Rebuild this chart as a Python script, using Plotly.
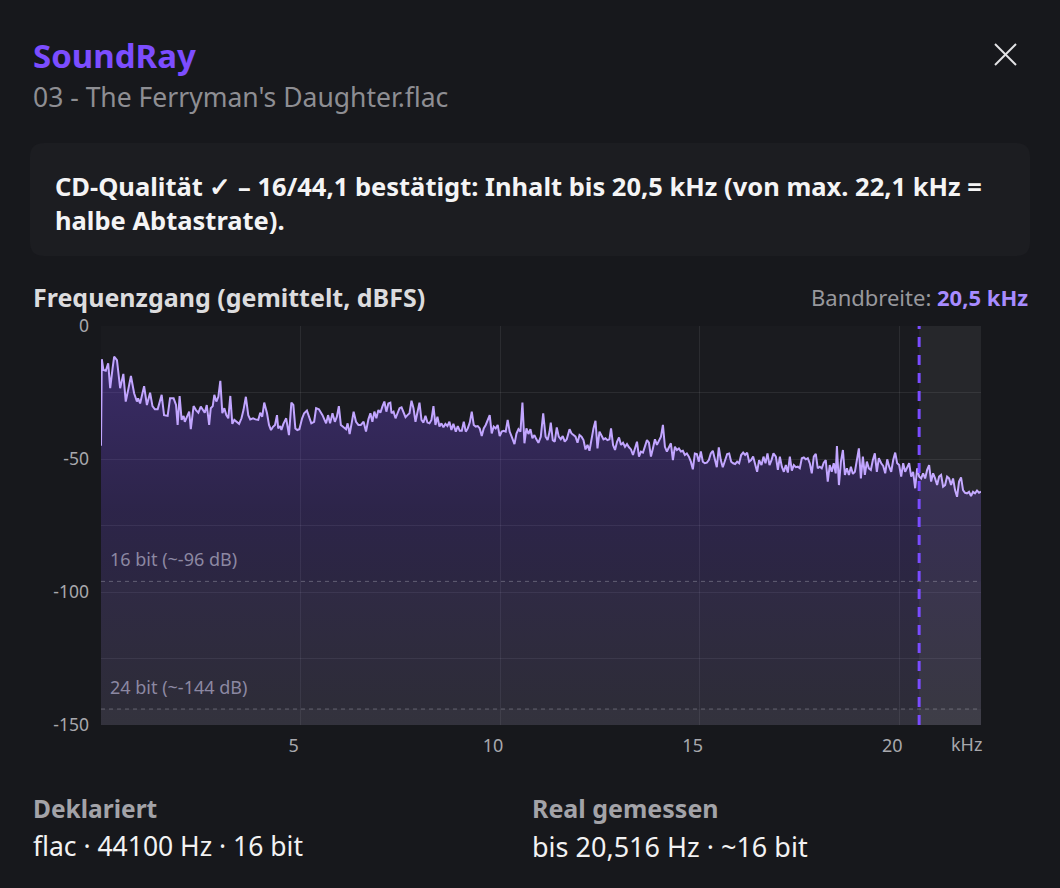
import plotly.graph_objects as go

# ---------------- data ----------------
FREQ_1 = [0.00, 0.02, 0.06, 0.12, 0.18, 0.23, 0.29, 0.33, 0.40, 0.48, 0.56, 0.62, 0.68, 0.75, 0.83, 0.90, 0.93, 0.98,
          1.08, 1.15, 1.23, 1.29, 1.35, 1.42, 1.52, 1.58, 1.67, 1.73, 1.82, 1.88, 1.92, 1.97, 2.02, 2.07, 2.10, 2.17,
          2.21, 2.25, 2.32, 2.38, 2.44, 2.50, 2.57, 2.60, 2.65, 2.71, 2.75, 2.80, 2.84, 2.89, 2.94, 2.99, 3.04, 3.09,
          3.14, 3.19, 3.24, 3.29, 3.34, 3.40, 3.46, 3.52, 3.57, 3.63, 3.69, 3.74, 3.81, 3.87, 3.94, 3.99, 4.04, 4.09,
          4.16, 4.21, 4.26, 4.31, 4.36, 4.41, 4.44, 4.49, 4.52, 4.57, 4.64, 4.71, 4.77, 4.82, 4.87, 4.92, 4.97, 5.04,
          5.09, 5.16, 5.22, 5.27, 5.34, 5.39, 5.46]
DB_1 = [-45.0, -12.5, -16.5, -16.8, -14.0, -23.4, -15.9, -11.5, -12.8, -23.4, -18.0, -28.4, -24.1, -18.8, -25.3, -28.4,
        -27.2, -29.1, -22.6, -29.7, -25.1, -30.1, -31.3, -31.3, -25.9, -33.5, -33.8, -27.2, -27.2, -29.7, -37.2, -26.3,
        -35.3, -33.8, -36.0, -33.5, -32.2, -38.8, -30.1, -31.6, -32.6, -30.3, -31.6, -32.6, -29.7, -37.2, -30.9, -30.1,
        -25.9, -28.4, -26.6, -20.6, -32.8, -30.9, -33.5, -34.7, -26.3, -36.8, -35.3, -36.0, -36.8, -34.7, -31.6, -26.6,
        -33.5, -35.1, -34.7, -35.1, -35.3, -32.6, -34.1, -28.8, -32.8, -37.2, -39.1, -37.9, -37.2, -33.5, -38.5, -37.6,
        -39.1, -36.8, -34.7, -41.0, -28.8, -29.7, -38.5, -39.1, -38.8, -34.7, -32.8, -31.8, -34.7, -36.6, -36.0, -30.9,
        -31.3]

FREQ_2 = [5.55, 5.64, 5.69, 5.74, 5.80, 5.86, 5.91, 5.96, 6.01, 6.08, 6.14, 6.18, 6.23, 6.28, 6.33, 6.39, 6.45, 6.51,
          6.58, 6.64, 6.70, 6.75, 6.80, 6.85, 6.90, 6.95, 7.00, 7.05, 7.10, 7.15, 7.20, 7.25, 7.28, 7.33, 7.38, 7.43,
          7.48, 7.53, 7.58, 7.63, 7.68, 7.73, 7.78, 7.83, 7.88, 7.93, 7.98, 8.03, 8.08, 8.13, 8.18, 8.23, 8.28, 8.33,
          8.38, 8.43, 8.48, 8.53, 8.58, 8.63, 8.68, 8.73, 8.78, 8.83, 8.89, 8.94, 8.99, 9.04, 9.09, 9.14, 9.19, 9.24,
          9.29, 9.34, 9.39, 9.44, 9.49, 9.54, 9.59, 9.64, 9.69, 9.74, 9.79, 9.84, 9.89, 9.94, 9.99, 10.04, 10.09,
          10.14, 10.19, 10.24, 10.29, 10.36, 10.41, 10.46, 10.51, 10.56, 10.61, 10.66, 10.71, 10.76, 10.81, 10.86,
          10.91, 10.96]
DB_2 = [-33.5, -36.6, -33.5, -36.6, -32.8, -36.0, -34.1, -30.1, -37.2, -38.1, -38.8, -36.6, -40.6, -36.6, -32.2, -36.0,
        -37.2, -37.2, -36.0, -39.7, -35.1, -32.8, -36.0, -32.2, -34.7, -31.6, -32.6, -30.3, -28.4, -32.2, -29.1, -28.8,
        -32.8, -32.2, -34.7, -32.8, -30.9, -30.6, -32.8, -34.3, -33.5, -32.8, -28.1, -30.9, -36.0, -32.2, -28.8, -35.3,
        -36.3, -33.8, -36.3, -36.6, -35.3, -30.1, -37.2, -34.1, -37.8, -36.6, -38.1, -36.8, -37.6, -36.0, -39.1, -36.8,
        -39.7, -37.6, -39.4, -39.4, -36.0, -39.7, -38.5, -36.3, -32.2, -37.2, -37.8, -37.6, -38.5, -41.4, -38.5, -37.2,
        -35.3, -33.5, -40.4, -37.8, -38.5, -37.2, -41.4, -39.7, -39.4, -39.7, -35.3, -39.7, -41.6, -44.4, -40.4, -38.8,
        -39.7, -28.8, -44.1, -38.5, -40.6, -38.8, -42.2, -41.0, -42.6, -43.9]

FREQ_3 = [11.02, 11.08, 11.14, 11.19, 11.24, 11.27, 11.32, 11.37, 11.42, 11.47, 11.52, 11.57, 11.62, 11.67, 11.74,
          11.79, 11.84, 11.89, 11.94, 11.99, 12.04, 12.09, 12.14, 12.19, 12.24, 12.29, 12.34, 12.39, 12.44, 12.49,
          12.54, 12.59, 12.64, 12.69, 12.74, 12.78, 12.83, 12.88, 12.93, 12.98, 13.03, 13.08, 13.13, 13.18, 13.23,
          13.28, 13.33, 13.38, 13.43, 13.48, 13.53, 13.58, 13.63, 13.68, 13.73, 13.78, 13.83, 13.88, 13.93, 13.98,
          14.03, 14.08, 14.13, 14.18, 14.23, 14.28, 14.33, 14.38, 14.43, 14.48, 14.53, 14.58, 14.63, 14.68, 14.73,
          14.78, 14.83, 14.88, 14.93, 14.98, 15.03, 15.08, 15.13, 15.18, 15.23, 15.28, 15.33, 15.38, 15.43, 15.48,
          15.53, 15.58, 15.63, 15.69, 15.74, 15.79, 15.84, 15.89, 15.94, 15.99, 16.04, 16.09, 16.14, 16.19, 16.24,
          16.29, 16.34, 16.39, 16.44, 16.49]
DB_3 = [-41.6, -32.8, -41.6, -42.9, -39.7, -36.3, -42.9, -43.5, -38.1, -41.6, -42.6, -41.4, -43.5, -42.6, -38.8, -40.4,
        -41.0, -41.6, -43.9, -41.0, -41.6, -42.9, -46.4, -44.7, -46.9, -42.2, -38.5, -35.6, -46.0, -39.7, -41.0, -42.6,
        -42.2, -42.9, -42.6, -38.5, -44.7, -46.6, -43.5, -41.9, -44.7, -43.9, -45.4, -44.4, -45.6, -46.4, -48.5, -46.0,
        -43.5, -49.1, -47.2, -47.6, -44.7, -42.9, -43.9, -49.1, -46.0, -42.6, -44.7, -42.9, -41.6, -37.2, -45.4, -47.2,
        -45.6, -44.1, -50.4, -45.4, -46.6, -46.0, -47.2, -46.9, -48.5, -47.9, -49.1, -51.0, -53.9, -47.9, -48.1, -51.0,
        -47.2, -51.0, -51.6, -51.4, -50.4, -47.9, -46.9, -50.1, -53.1, -45.6, -50.4, -53.1, -51.0, -48.1, -47.9, -51.0,
        -51.6, -51.9, -51.0, -51.6, -48.5, -47.6, -48.5, -47.6, -51.0, -50.4, -49.1, -52.3, -54.8, -50.4]

FREQ_4 = [16.55, 16.60, 16.65, 16.70, 16.75, 16.80, 16.85, 16.91, 16.96, 17.01, 17.06, 17.11, 17.16, 17.21, 17.26,
          17.31, 17.36, 17.41, 17.46, 17.51, 17.56, 17.61, 17.66, 17.71, 17.76, 17.81, 17.86, 17.91, 17.96, 18.01,
          18.06, 18.11, 18.16, 18.21, 18.26, 18.31, 18.36, 18.41, 18.44, 18.49, 18.54, 18.59, 18.64, 18.69, 18.74,
          18.79, 18.84, 18.89, 18.94, 18.99, 19.04, 19.09, 19.14, 19.19, 19.24, 19.29, 19.34, 19.39, 19.44, 19.49,
          19.55, 19.60, 19.65, 19.70, 19.75, 19.80, 19.85, 19.90, 19.95, 20.00, 20.05, 20.10, 20.15, 20.20, 20.25,
          20.30, 20.35, 20.40, 20.45, 20.50, 20.55, 20.60, 20.65, 20.70, 20.75, 20.80, 20.85, 20.90, 20.95, 21.00,
          21.05, 21.10, 21.15, 21.20, 21.25, 21.30, 21.35, 21.40, 21.45, 21.50, 21.55, 21.60, 21.65, 21.70, 21.75,
          21.80, 21.85, 21.90, 21.95, 22.00, 22.05]
DB_4 = [-52.3, -49.1, -51.6, -47.9, -52.3, -50.4, -47.9, -49.1, -54.1, -49.1, -52.9, -54.8, -52.3, -55.1, -49.1, -54.4,
        -52.3, -53.1, -52.9, -53.5, -49.7, -49.4, -50.1, -49.7, -51.6, -55.4, -49.1, -48.1, -53.5, -52.9, -53.5, -51.4,
        -50.4, -58.5, -52.3, -54.8, -51.6, -55.4, -45.1, -59.8, -51.0, -46.6, -56.0, -53.5, -56.0, -52.9, -55.6, -54.8,
        -50.4, -46.0, -57.3, -49.1, -56.0, -51.0, -53.5, -54.1, -50.4, -47.9, -54.8, -49.7, -51.6, -52.6, -55.4, -50.1,
        -52.9, -54.8, -50.4, -47.6, -51.6, -52.3, -56.6, -51.6, -54.8, -52.9, -51.6, -56.6, -54.8, -61.0, -53.5, -56.6,
        -57.3, -55.4, -57.3, -54.1, -52.3, -58.5, -55.4, -57.3, -59.8, -56.6, -56.0, -60.4, -59.8, -56.6, -57.3, -59.8,
        -57.3, -61.7, -64.2, -58.5, -56.9, -61.7, -62.7, -62.9, -62.3, -63.9, -62.3, -62.9, -61.9, -62.7, -62.3]

freq_khz = FREQ_1 + FREQ_2 + FREQ_3 + FREQ_4
level_db = DB_1 + DB_2 + DB_3 + DB_4

NYQUIST_KHZ = 22.05
BANDWIDTH_KHZ = 20.5
FLOOR_DB = -150
BIT_LINES_DB = [-96, -144]
BIT_LABELS = ["16 bit (~-96 dB)", "24 bit (~-144 dB)"]
X_TICKS = [5, 10, 15, 20]
X_TICK_TEXT = ["5", "10", "15", "20"]
Y_TICKS = [0, -25, -50, -75, -100, -125, -150]
Y_TICK_TEXT = ["0", "", "-50", "", "-100", "", "-150"]

# ---------------- layout helpers (pixel -> paper) ----------------
W, H = 1060, 888
PL, PR, PT, PB = 101, 981, 326, 725


def px(x):
    return (x - PL) / (PR - PL)


def py(y):
    return (PB - y) / (PB - PT)


FONT = "Noto Sans"
BG = "#17181c"

fig = go.Figure()

fig.add_trace(go.Scatter(
    x=[freq_khz[0], freq_khz[-1]], y=[FLOOR_DB, FLOOR_DB], mode="lines",
    line=dict(width=0, color="rgba(0,0,0,0)"), hoverinfo="skip", showlegend=False))

fig.add_trace(go.Scatter(
    x=freq_khz, y=level_db, mode="lines", fill="tonexty",
    fillgradient=dict(type="vertical", start=FLOOR_DB, stop=-15,
                      colorscale=[[0, "rgba(120,110,160,0.16)"], [0.6, "rgba(124,77,255,0.19)"],
                                  [1, "rgba(124,77,255,0.32)"]]),
    line=dict(color="#c2a6ff", width=2), hoverinfo="skip", showlegend=False))

shapes = []
# info box (rounded)
x0, x1, y0, y1 = px(30), px(1030), py(256), py(143)
rx, ry = 14 / (PR - PL), 14 / (PB - PT)
path = (f"M {x0+rx},{y0} L {x1-rx},{y0} Q {x1},{y0} {x1},{y0+ry} L {x1},{y1-ry} Q {x1},{y1} {x1-rx},{y1} "
        f"L {x0+rx},{y1} Q {x0},{y1} {x0},{y1-ry} L {x0},{y0+ry} Q {x0},{y0} {x0+rx},{y0} Z")
shapes.append(dict(type="path", xref="paper", yref="paper", path=path, fillcolor="#1c1d21",
                   line=dict(width=0), layer="below"))
# close X
for (a, b, c, d) in [(995, 44, 1016, 65), (1016, 44, 995, 65)]:
    shapes.append(dict(type="line", xref="paper", yref="paper", x0=px(a), y0=py(b), x1=px(c), y1=py(d),
                       line=dict(color="#e4e4e6", width=2)))
# noise-floor bands
shapes.append(dict(type="rect", xref="x", yref="y", x0=0, x1=NYQUIST_KHZ, y0=FLOOR_DB, y1=BIT_LINES_DB[0],
                   fillcolor="rgba(255,255,255,0.02)", line=dict(width=0), layer="above"))
shapes.append(dict(type="rect", xref="x", yref="y", x0=0, x1=NYQUIST_KHZ, y0=FLOOR_DB, y1=BIT_LINES_DB[1],
                   fillcolor="rgba(255,255,255,0.03)", line=dict(width=0), layer="above"))
# region above measured bandwidth
shapes.append(dict(type="rect", xref="x", yref="y", x0=BANDWIDTH_KHZ, x1=NYQUIST_KHZ, y0=FLOOR_DB, y1=0,
                   fillcolor="rgba(255,255,255,0.055)", line=dict(width=0), layer="above"))
# bit depth lines
for v in BIT_LINES_DB:
    shapes.append(dict(type="line", xref="x", yref="y", x0=0, x1=NYQUIST_KHZ, y0=v, y1=v,
                       line=dict(color="rgba(200,200,210,0.35)", width=1, dash="4px,4px"), layer="above"))
# bandwidth line
shapes.append(dict(type="line", xref="x", yref="y", x0=BANDWIDTH_KHZ, x1=BANDWIDTH_KHZ, y0=FLOOR_DB, y1=0,
                   line=dict(color="#7a4cff", width=3, dash="10px,8px"), layer="above"))

ann = []


def text(x, y, s, size, color, anchor="left", family=FONT):
    ann.append(dict(x=px(x), y=py(y), xref="paper", yref="paper", text=s, showarrow=False,
                    xanchor=anchor, yanchor="middle", font=dict(family=family, size=size, color=color)))


text(31, 56, "<b>SoundRay</b>", 33, "#7c4dff")
text(31, 97, "03 - The Ferryman's Daughter.flac", 26.5, "#8e8e93")
text(53, 186, "<b>CD-Qualität ✓ – 16/44,1 bestätigt: Inhalt bis 20,5 kHz (von max. 22,1 kHz =</b>", 25.5, "#f4f4f5")
text(53, 220, "<b>halbe Abtastrate).</b>", 25.5, "#f4f4f5")
text(31, 297, "<b>Frequenzgang (gemittelt, dBFS)</b>", 25, "#dcdcde")
text(1030, 297, "Bandbreite: <b><span style='color:#a78bff'>20,5 kHz</span></b>", 22, "#98989d", anchor="right")
for v, lab, yy in zip(BIT_LINES_DB, BIT_LABELS, [559, 687]):
    text(108, yy, lab, 18, "#8c88a2")
text(966, 744, "kHz", 18, "#a8a8ad", anchor="center")
text(31, 808, "<b>Deklariert</b>", 24.5, "#a3a3a8")
text(31, 846, "flac · 44100 Hz · 16 bit", 26.5, "#f2f2f3")
text(530, 808, "<b>Real gemessen</b>", 25, "#a3a3a8")
text(530, 846, "bis 20,516 Hz · ~16 bit", 27, "#f2f2f3")

fig.update_layout(
    width=W, height=H, autosize=False,
    margin=dict(l=PL, r=W - PR, t=PT, b=H - PB, pad=0),
    paper_bgcolor=BG, plot_bgcolor="#1a1b1f",
    shapes=shapes, annotations=ann, showlegend=False,
    font=dict(family=FONT, color="#a8a8ad"),
    xaxis=dict(range=[0, NYQUIST_KHZ], tickmode="array", tickvals=X_TICKS, ticktext=X_TICK_TEXT,
               showgrid=True, gridcolor="rgba(255,255,255,0.08)", gridwidth=1, zeroline=False, showline=False,
               ticks="", tickfont=dict(size=18, color="#a8a8ad"), ticklabelshift=-7, ticklabelstandoff=8,
               fixedrange=True),
    yaxis=dict(range=[FLOOR_DB, 0], tickmode="array", tickvals=Y_TICKS, ticktext=Y_TICK_TEXT,
               showgrid=True, gridcolor="rgba(255,255,255,0.08)", gridwidth=1, zeroline=False, showline=False,
               ticks="", tickfont=dict(size=17.5, color="#a8a8ad"), ticklabelstandoff=11, fixedrange=True),
)

fig.write_html("out.html", config={"displayModeBar": False})
